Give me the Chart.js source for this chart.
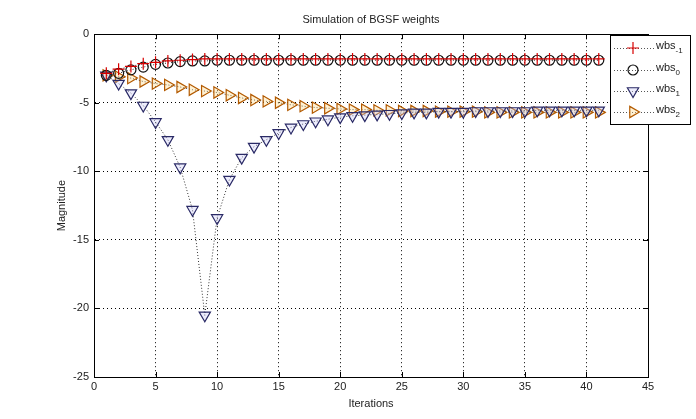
<!DOCTYPE html>
<html>
<head>
<meta charset="utf-8">
<script src="https://cdn.jsdelivr.net/npm/chart.js@4/dist/chart.umd.min.js"></script>
<style>
html,body{margin:0;padding:0;background:#fff;}
#wrap{width:696px;height:419px;position:relative;}
</style>
</head>
<body>
<div id="wrap"><canvas id="c" width="696" height="419"></canvas></div>
<script>
const iterations = Array.from({length: 41}, (_, i) => i + 1);
const wbsM1 = [-2.85,-2.55,-2.35,-2.15,-2.05,-1.95,-1.9,-1.85,-1.8,-1.8,-1.8,-1.8,-1.8,-1.8,-1.8,-1.8,-1.8,-1.8,-1.8,-1.8,-1.8,-1.8,-1.8,-1.8,-1.8,-1.8,-1.8,-1.8,-1.8,-1.8,-1.8,-1.8,-1.8,-1.8,-1.8,-1.8,-1.8,-1.8,-1.8,-1.8,-1.8];
const wbs0 = [-3.0,-2.85,-2.6,-2.4,-2.2,-2.1,-2.0,-1.95,-1.95,-1.9,-1.9,-1.9,-1.9,-1.9,-1.9,-1.9,-1.9,-1.9,-1.9,-1.9,-1.9,-1.9,-1.9,-1.9,-1.9,-1.9,-1.9,-1.9,-1.9,-1.9,-1.9,-1.9,-1.9,-1.9,-1.9,-1.9,-1.9,-1.9,-1.9,-1.9,-1.9];
const wbs1 = [-3.0,-3.6,-4.3,-5.2,-6.4,-7.7,-9.7,-12.8,-20.5,-13.4,-10.6,-9.0,-8.2,-7.7,-7.2,-6.8,-6.55,-6.35,-6.2,-6.05,-5.95,-5.9,-5.85,-5.8,-5.75,-5.7,-5.7,-5.65,-5.65,-5.65,-5.6,-5.6,-5.6,-5.6,-5.6,-5.55,-5.55,-5.55,-5.55,-5.55,-5.55];
const wbs2 = [-3.0,-3.1,-3.2,-3.45,-3.6,-3.7,-3.85,-4.05,-4.15,-4.25,-4.45,-4.65,-4.8,-4.9,-5.0,-5.15,-5.25,-5.35,-5.4,-5.45,-5.5,-5.5,-5.55,-5.55,-5.6,-5.6,-5.6,-5.65,-5.65,-5.65,-5.65,-5.7,-5.7,-5.7,-5.7,-5.7,-5.7,-5.7,-5.7,-5.7,-5.7];
const xTicks = [0,5,10,15,20,25,30,35,40,45];
const yTicks = [0,-5,-10,-15,-20,-25];
const seriesNames = [['wbs','-1'],['wbs','0'],['wbs','1'],['wbs','2']];

const FONT = "'Liberation Sans', Arial, sans-serif";
const pts = arr => arr.map((v, i) => ({x: iterations[i], y: v}));

const styles = [
  {pointStyle:'cross', rotation:0, radius:6, color:'#d80000', fill:'rgba(0,0,0,0)', line:'#333'},
  {pointStyle:'circle', rotation:0, radius:5, color:'#111', fill:'rgba(255,255,255,0)', line:'#333'},
  {pointStyle:'triangle', rotation:180, radius:6.5, color:'#2a2a66', fill:'rgba(200,200,245,0.35)', line:'#333'},
  {pointStyle:'triangle', rotation:90, radius:6.5, color:'#b35a00', fill:'rgba(255,215,130,0.35)', line:'#333'}
];
const seriesData = [wbsM1, wbs0, wbs1, wbs2];

const datasets = seriesData.map((d, i) => ({
  label: seriesNames[i].join('_'),
  data: pts(d),
  showLine: true,
  borderColor: styles[i].line,
  borderWidth: 1,
  borderDash: [1, 2],
  pointStyle: styles[i].pointStyle,
  rotation: styles[i].rotation,
  pointRadius: styles[i].radius,
  pointHoverRadius: styles[i].radius,
  pointBorderColor: styles[i].color,
  pointBackgroundColor: styles[i].fill,
  pointBorderWidth: 1.2
}));

function drawMarker(ctx, st, x, y) {
  ctx.save();
  ctx.strokeStyle = st.color;
  ctx.fillStyle = st.fill;
  ctx.lineWidth = 1.2;
  if (Chart.helpers && Chart.helpers.drawPoint) {
    Chart.helpers.drawPoint(ctx, {pointStyle: st.pointStyle, rotation: st.rotation, radius: st.radius, borderWidth: 1.2}, x, y);
  }
  ctx.restore();
}

const framePlugin = {
  id: 'frame',
  afterDraw(chart) {
    const ctx = chart.ctx;
    const {left, right, top, bottom} = chart.chartArea;
    const xs = chart.scales.x, ys = chart.scales.y;
    ctx.save();
    ctx.strokeStyle = '#000';
    ctx.lineWidth = 1;
    ctx.strokeRect(Math.round(left) + 0.5, Math.round(top) + 0.5, Math.round(right - left), Math.round(bottom - top));
    ctx.beginPath();
    xs.ticks.forEach(t => {
      const px = Math.round(xs.getPixelForValue(t.value)) + 0.5;
      ctx.moveTo(px, bottom); ctx.lineTo(px, bottom - 5);
      ctx.moveTo(px, top); ctx.lineTo(px, top + 5);
    });
    ys.ticks.forEach(t => {
      const py = Math.round(ys.getPixelForValue(t.value)) + 0.5;
      ctx.moveTo(left, py); ctx.lineTo(left + 5, py);
      ctx.moveTo(right, py); ctx.lineTo(right - 5, py);
    });
    ctx.stroke();

    // legend
    const lx = 610, ly = 35, lw = 80, lh = 89;
    ctx.fillStyle = '#fff';
    ctx.fillRect(lx, ly, lw, lh);
    ctx.strokeRect(lx + 0.5, ly + 0.5, lw, lh);
    const rows = [48, 70, 91, 112];
    rows.forEach((ry, i) => {
      ctx.save();
      ctx.strokeStyle = '#555';
      ctx.setLineDash([1, 2]);
      ctx.beginPath();
      ctx.moveTo(614, ry + 0.5); ctx.lineTo(654, ry + 0.5);
      ctx.stroke();
      ctx.restore();
      drawMarker(ctx, styles[i], 633, ry);
      ctx.fillStyle = '#222';
      ctx.textBaseline = 'middle';
      ctx.textAlign = 'left';
      ctx.font = '11px ' + FONT;
      ctx.fillText(seriesNames[i][0], 656, ry - 2);
      const w = ctx.measureText(seriesNames[i][0]).width;
      ctx.font = '8px ' + FONT;
      ctx.fillText(seriesNames[i][1], 656 + w, ry + 3);
    });
    ctx.restore();
  }
};

new Chart(document.getElementById('c'), {
  type: 'scatter',
  data: {datasets},
  options: {
    responsive: false,
    animation: false,
    events: [],
    layout: {padding: {left: 0, top: 0, right: 48, bottom: 0}},
    plugins: {
      legend: {display: false},
      tooltip: {enabled: false},
      title: {
        display: true,
        text: 'Simulation of BGSF weights',
        fullSize: false,
        color: '#222',
        font: {family: FONT, size: 11, weight: 'normal', lineHeight: 1.2},
        padding: {top: 13, bottom: 8}
      }
    },
    scales: {
      x: {
        type: 'linear',
        min: 0, max: 45,
        afterBuildTicks: s => { s.ticks = xTicks.map(v => ({value: v})); },
        afterFit: s => { s.height = 42; },
        ticks: {color: '#222', font: {family: FONT, size: 11}, padding: 3, maxRotation: 0},
        grid: {color: '#000', lineWidth: 1, drawTicks: false},
        border: {display: true, color: '#000', width: 1, dash: [1, 3]},
        title: {display: true, text: 'Iterations', color: '#222', font: {family: FONT, size: 11}, padding: {top: 0, bottom: 8}}
      },
      y: {
        type: 'linear',
        min: -25, max: 0,
        afterBuildTicks: s => { s.ticks = yTicks.map(v => ({value: v})); },
        afterFit: s => { s.width = 94; },
        ticks: {color: '#222', font: {family: FONT, size: 11}, padding: 5},
        grid: {color: '#000', lineWidth: 1, drawTicks: false},
        border: {display: true, color: '#000', width: 1, dash: [1, 3]},
        title: {display: true, text: 'Magnitude', color: '#222', font: {family: FONT, size: 11}, padding: {top: 55, bottom: 0}}
      }
    }
  },
  plugins: [framePlugin]
});
</script>
</body>
</html>
